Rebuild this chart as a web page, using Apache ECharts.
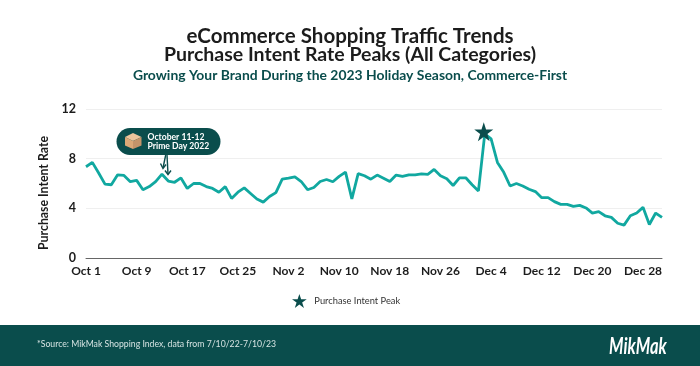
<!DOCTYPE html>
<html>
<head>
<meta charset="utf-8">
<style>
  html, body { margin: 0; padding: 0; background: #fff; }
  #main { width: 700px; height: 366px; }
</style>
<script src="https://cdn.jsdelivr.net/npm/echarts@6/dist/echarts.min.js"></script>
</head>
<body>
<div id="main"></div>
<script>
const monthDays = [['Oct', 31], ['Nov', 30], ['Dec', 31]];
const dates = [];
monthDays.forEach(function (m) {
    for (let d = 1; d <= m[1]; d++) dates.push(m[0] + ' ' + d);
});

const intentRate = [
    7.35, 7.7, 6.85, 5.95, 5.9, 6.7, 6.65, 6.15, 6.25, 5.5, 5.75, 6.15, 6.75, 6.2, 6.1, 6.45,
    5.6, 6.0, 6.0, 5.75, 5.6, 5.3, 5.75, 4.8, 5.3, 5.65, 5.2, 4.75, 4.5, 4.95, 5.27,
    6.35, 6.43, 6.54, 6.16, 5.5, 5.68, 6.16, 6.32, 6.14, 6.57, 6.92, 4.76, 6.8, 6.62, 6.35,
    6.68, 6.43, 6.16, 6.68, 6.57, 6.7, 6.7, 6.78, 6.73, 7.13, 6.62, 6.38, 5.84, 6.46, 6.46,
    5.9, 5.4, 10.0, 9.6, 7.7, 6.9, 5.8, 6.0, 5.8, 5.54, 5.35, 4.86, 4.86, 4.54, 4.32,
    4.32, 4.16, 4.24, 4.03, 3.62, 3.73, 3.4, 3.27, 2.8, 2.65, 3.4, 3.62, 4.08, 2.7, 3.62, 3.27
];
const peakPoints = [['Dec 3', 10.0]];
const yTicks = { min: 0, max: 12, interval: 4 };

const DARK = '#0a4d4c';
const TEAL = '#11a8a0';
const font = 'Lato';
const starPath = 'path://M50 0L62 36H100L69 58L81 95L50 72L19 95L31 58L0 36H38Z';

const chart = echarts.init(document.getElementById('main'));
chart.setOption({
    animation: false,
    backgroundColor: '#fff',
    textStyle: { fontFamily: font },
    title: [
        {
            text: 'eCommerce Shopping Traffic Trends',
            left: 345, top: 21, textAlign: 'center',
            textStyle: { color: '#1c1c1c', fontSize: 20.5, fontWeight: 'bold', fontFamily: font }
        },
        {
            text: 'Purchase Intent Rate Peaks (All Categories)',
            left: 345, top: 40, textAlign: 'center',
            textStyle: { color: '#1c1c1c', fontSize: 19.5, fontWeight: 'bold', fontFamily: font }
        },
        {
            text: 'Growing Your Brand During the 2023 Holiday Season, Commerce-First',
            left: 345, top: 64, textAlign: 'center',
            textStyle: { color: DARK, fontSize: 13.9, fontWeight: 'bold', fontFamily: font }
        }
    ],
    grid: { left: 86, right: 38, top: 109, bottom: 108 },
    legend: {
        data: [{ name: 'Purchase Intent Peak', icon: starPath }],
        left: 287, top: 289,
        itemWidth: 16, itemHeight: 14,
        textStyle: { color: '#333', fontSize: 9.3, fontFamily: font, padding: [0, 0, 0, 2] }
    },
    xAxis: {
        type: 'category',
        data: dates,
        boundaryGap: false,
        axisTick: { show: false },
        axisLine: { lineStyle: { color: '#666', width: 1 } },
        axisLabel: {
            interval: function (i) { return i % 8 === 0; },
            color: '#1c1c1c', fontSize: 12, fontWeight: 'bold', margin: 7, fontFamily: font, hideOverlap: false
        }
    },
    yAxis: {
        type: 'value',
        min: yTicks.min, max: yTicks.max, interval: yTicks.interval,
        name: 'Purchase Intent Rate',
        nameLocation: 'middle',
        nameGap: 36,
        nameTextStyle: { color: '#1c1c1c', fontSize: 12.3, fontWeight: 'bold', fontFamily: font, padding: [0, 19, 0, 0] },
        axisLine: { show: false },
        axisTick: { show: false },
        axisLabel: { color: '#1c1c1c', fontSize: 12.5, fontWeight: 'bold', margin: 10, fontFamily: font },
        splitLine: { lineStyle: { color: '#efefef', width: 1 } }
    },
    series: [
        {
            name: 'Purchase Intent Rate',
            type: 'line',
            data: intentRate,
            showSymbol: false,
            smooth: false,
            lineStyle: { color: TEAL, width: 2.8 },
            itemStyle: { color: TEAL }
        },
        {
            name: 'Purchase Intent Peak',
            type: 'scatter',
            data: peakPoints,
            symbol: starPath,
            symbolSize: 19,
            symbolOffset: [-1, -2],
            itemStyle: { color: DARK, opacity: 1 },
            z: 5
        }
    ],
    graphic: [
        // footer band
        { type: 'rect', shape: { x: 0, y: 325, width: 700, height: 41 }, style: { fill: DARK }, z: 1 },
        { type: 'text', x: 37, y: 340, style: { text: '*Source: MikMak Shopping Index, data from 7/10/22-7/10/23', fill: '#d5e3e2', fontSize: 8.7, fontFamily: font }, z: 2 },
        { type: 'text', x: 609, y: 336, scaleX: 0.75, style: { text: 'MikMak', fill: '#fff', fontSize: 22, fontWeight: 'bold', fontStyle: 'italic', fontFamily: font }, z: 2 },
        // Prime Day callout
        { type: 'rect', shape: { x: 116.5, y: 128, width: 104, height: 27, r: 13.5 }, style: { fill: DARK }, z: 10 },
        { type: 'polygon', shape: { points: [[125, 137], [133, 133], [141.5, 137], [133, 141]] }, style: { fill: '#ecc59c' }, z: 11 },
        { type: 'polygon', shape: { points: [[125, 137], [133, 141], [133, 149], [125, 145.5]] }, style: { fill: '#dba877' }, z: 11 },
        { type: 'polygon', shape: { points: [[133, 141], [141.5, 137], [141.5, 145.5], [133, 149]] }, style: { fill: '#c4946a' }, z: 11 },
        { type: 'text', x: 147.5, y: 132.5, style: { text: 'October 11-12\nPrime Day 2022', fill: '#fff', fontSize: 8.6, fontWeight: 'bold', lineHeight: 9, fontFamily: font }, z: 11 },
        // two arrows down to the line
        { type: 'polyline', shape: { points: [[165.7, 155], [163, 168]] }, style: { stroke: DARK, lineWidth: 1.4, fill: null }, z: 10 },
        { type: 'polyline', shape: { points: [[160.5, 163.5], [163, 168.5], [166, 164.5]] }, style: { stroke: DARK, lineWidth: 1.4, fill: null }, z: 10 },
        { type: 'polyline', shape: { points: [[167, 155], [168, 174]] }, style: { stroke: DARK, lineWidth: 1.4, fill: null }, z: 10 },
        { type: 'polyline', shape: { points: [[165, 170.5], [168, 174.5], [171, 170.5]] }, style: { stroke: DARK, lineWidth: 1.4, fill: null }, z: 10 }
    ]
});
</script>
</body>
</html>
